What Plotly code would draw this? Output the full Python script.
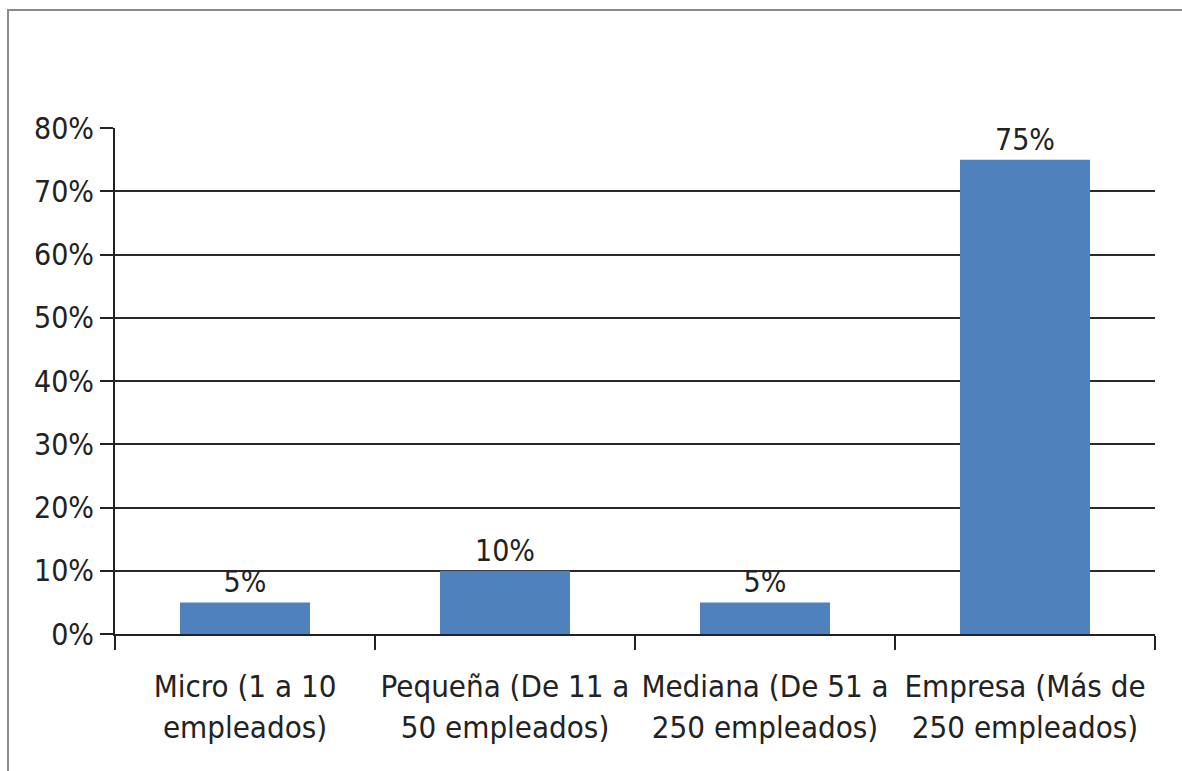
import plotly.graph_objects as go

# Company size categories and share of respondents
categories = [
    "Micro (1 a 10<br>empleados)",
    "Pequeña (De 11 a<br>50 empleados)",
    "Mediana (De 51 a<br>250 empleados)",
    "Empresa (Más de<br>250 empleados)",
]
shares = [0.05, 0.10, 0.05, 0.75]
y_ticks = [0, 0.1, 0.2, 0.3, 0.4, 0.5, 0.6, 0.7, 0.8]

FONT = "Liberation Sans Narrow, Arial Narrow, DejaVu Sans Condensed, sans-serif"
W, H = 1182, 771
M_L, M_R, M_T, M_B = 115, 27, 128, 137
pw, ph = W - M_L - M_R, H - M_T - M_B

fig = go.Figure(
    go.Bar(
        x=categories,
        y=shares,
        marker=dict(color="#4F81BD", line=dict(width=0)),
        text=[f"{v:.0%}" for v in shares],
        textposition="outside",
        textfont=dict(family=FONT, size=30, color="#222"),
        cliponaxis=False,
    )
)

# outer chart border (left and top edges visible)
fig.add_shape(
    type="rect", xref="paper", yref="paper",
    x0=(8 - M_L) / pw, x1=(W + 20 - M_L) / pw,
    y0=-(M_B + 20) / ph, y1=(H - M_B - 10) / ph,
    line=dict(color="#8a8a8a", width=2), fillcolor="rgba(0,0,0,0)",
    layer="below",
)

fig.update_layout(
    width=W, height=H,
    margin=dict(l=M_L, r=M_R, t=M_T, b=M_B),
    paper_bgcolor="white", plot_bgcolor="white",
    bargap=0.5,
    showlegend=False,
    font=dict(family=FONT, size=30, color="#222"),
    xaxis=dict(
        type="category",
        tickson="boundaries",
        ticks="outside", ticklen=14, tickwidth=2, tickcolor="#222",
        showline=True, linecolor="#222", linewidth=2,
        showgrid=False,
        tickfont=dict(family=FONT, size=31, color="#222"),
        ticklabelstandoff=24,
    ),
    yaxis=dict(
        range=[0, 0.8],
        tickvals=y_ticks,
        tickformat=".0%",
        ticks="outside", ticklen=13, tickwidth=2, tickcolor="#222",
        showline=True, linecolor="#222", linewidth=2,
        showgrid=True, gridcolor="#2a2a2a", gridwidth=2,
        zeroline=False,
        tickfont=dict(family=FONT, size=30, color="#222"),
    ),
)

fig.write_html("out.html")
